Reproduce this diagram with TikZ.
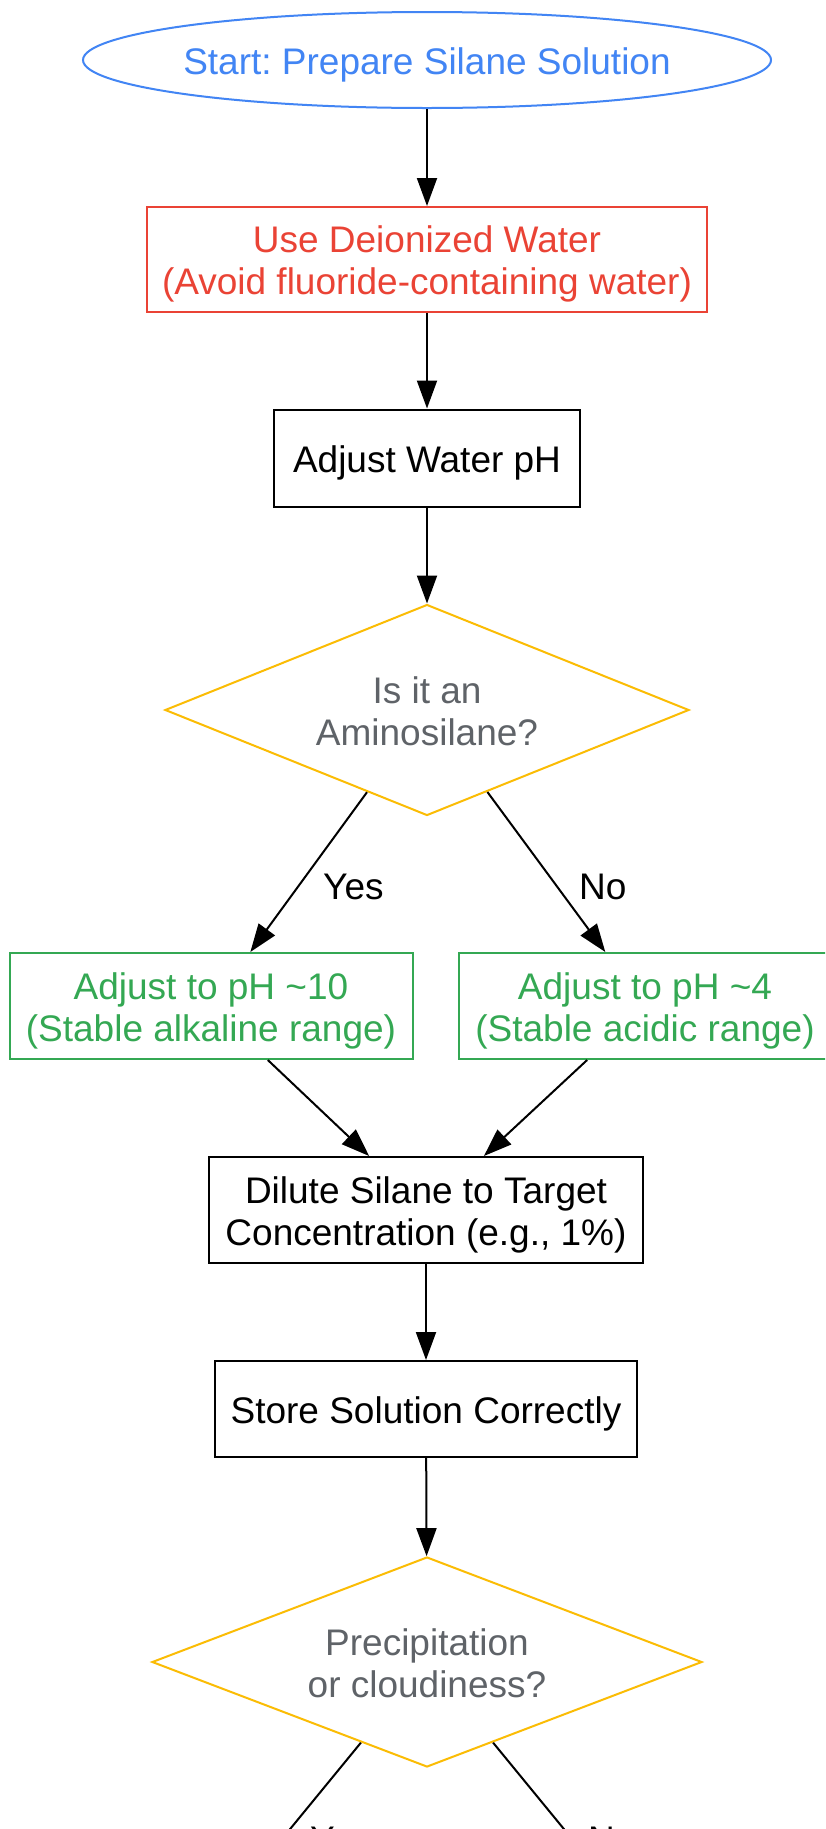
\documentclass[tikz,border=0pt]{standalone}
\usepackage{fontspec}
\setmainfont{Liberation Sans}
\usetikzlibrary{shapes.geometric,arrows.meta}
\definecolor{gblue}{HTML}{4285F4}
\definecolor{gred}{HTML}{EA4335}
\definecolor{gyellow}{HTML}{FBBC04}
\definecolor{ggreen}{HTML}{34A853}
\definecolor{ggray}{HTML}{5F6368}
\frenchspacing
\newcommand\nodetxt[1]{\raisebox{-5.8pt}[\height][\depth]{\begin{tabular}{@{}c@{}}#1\end{tabular}}}
\begin{document}
\begin{tikzpicture}[x=1pt,y=-1pt,
  every node/.style={font={\fontsize{37}{42}\selectfont}, inner sep=0pt},
  startnode/.style={draw=gblue, text=gblue, line width=2pt, ellipse, inner xsep=-3pt, minimum width=688pt, minimum height=96pt},
  warnbox/.style={draw=gred, text=gred, line width=2pt, rectangle},
  procbox/.style={draw=black, text=black, line width=2pt, rectangle},
  goodbox/.style={draw=ggreen, text=ggreen, line width=2pt, rectangle},
  decision/.style={draw=gyellow, text=ggray, line width=2pt, diamond, aspect=2.5},
  lbl/.style={text=black, anchor=base west},
  arr/.style={line width=2pt, draw=black, -{Triangle[length=28pt,width=20pt]}},
]
\useasboundingbox (0,0) rectangle (825,1829);
\clip (0,0) rectangle (825,1829);
\fill[white] (0,0) rectangle (825,1829);

\node[startnode] (start) at (427,60) {\nodetxt{Start: Prepare Silane Solution}};
\node[warnbox, minimum width=560pt, minimum height=105pt] (water) at (427,259.5) {\nodetxt{Use Deionized Water\\(Avoid fluoride-containing water)}};
\node[procbox, minimum width=306pt, minimum height=97pt] (ph) at (427,458) {\nodetxt{Adjust Water pH}};
\node[decision, minimum width=524pt, minimum height=211pt] (amino) at (427,710) {\nodetxt{Is it an\\Aminosilane?}};
\node[goodbox, minimum width=403pt, minimum height=106pt] (alk) at (211,1006) {\nodetxt{Adjust to pH \textasciitilde10\\(Stable alkaline range)}};
\node[goodbox, minimum width=372pt, minimum height=106pt] (acid) at (645,1006) {\nodetxt{Adjust to pH \textasciitilde4\\(Stable acidic range)}};
\node[procbox, minimum width=434pt, minimum height=106pt] (dilute) at (426,1210) {\nodetxt{Dilute Silane to Target\\Concentration (e.g., 1\%)}};
\node[procbox, minimum width=422pt, minimum height=96pt] (store) at (426,1409) {\nodetxt{Store Solution Correctly}};
\node[decision, minimum width=550pt, minimum height=210pt] (precip) at (427,1662) {\nodetxt{Precipitation\\or cloudiness?}};

\coordinate (yesend) at (186,1956);
\coordinate (noend) at (668,1956);

\draw[arr] (start) -- (water);
\draw[arr] (water) -- (ph);
\draw[arr] (ph) -- (amino);
\draw[arr] (amino) -- (alk);
\draw[arr] (amino) -- (acid);
\draw[arr] (alk) -- (dilute);
\draw[arr] (acid) -- (dilute);
\draw[arr] (dilute) -- (store);
\draw[arr] (store) -- (precip);
\draw[arr] (precip) -- (yesend);
\draw[arr] (precip) -- (noend);

\node[lbl] (yes1) at (323,899) {Yes};
\node[lbl] (no1) at (579,899) {No};
\node[lbl] (yes2) at (310,1852) {Yes};
\node[lbl] (no2) at (588,1852) {No};
\end{tikzpicture}
\end{document}
